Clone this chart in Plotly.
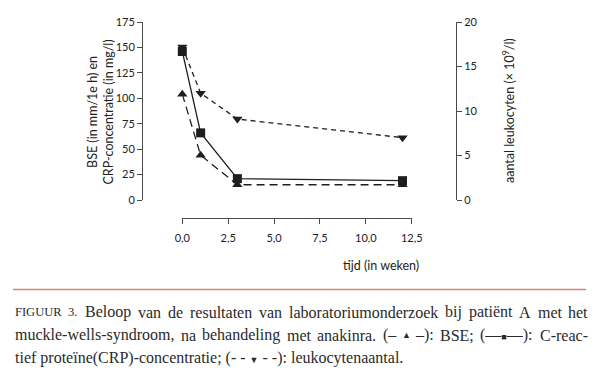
import plotly.graph_objects as go

weeks = [0, 1, 3, 12]
crp = [146, 66, 21, 19]
bse = [104, 44, 15, 15]
leuko = [17.2, 12.0, 9.1, 7.0]

x_ticks = [0, 2.5, 5, 7.5, 10, 12.5]
left_ticks = [0, 25, 50, 75, 100, 125, 150, 175]
right_ticks = [0, 5, 10, 15, 20]

# page body has an 8px margin, so the figure starts at (8, 8)
OFF = 8
W, H = 592, 362
def px(x):
    return (x - OFF) / W
def py(y):
    return 1 - (y - OFF) / H

ink = "#1e1e1e"
axc = "#4a4a4a"
sans = "Lato"
serif = "Liberation Serif"

fig = go.Figure()
fig.add_trace(go.Scatter(x=weeks, y=bse, mode="lines+markers",
                         line=dict(color=ink, width=1.3, dash="8px,5px"),
                         marker=dict(symbol="triangle-up", size=9, color=ink),
                         cliponaxis=False, name="BSE"))
fig.add_trace(go.Scatter(x=weeks, y=crp, mode="lines+markers",
                         line=dict(color=ink, width=1.3),
                         marker=dict(symbol="square", size=9, color=ink),
                         cliponaxis=False, name="CRP"))
fig.add_trace(go.Scatter(x=weeks, y=leuko, mode="lines+markers", yaxis="y2",
                         line=dict(color=ink, width=1.3, dash="5px,4px"),
                         marker=dict(symbol="triangle-down", size=9, color=ink),
                         cliponaxis=False, name="leukocyten"))

tickfont = dict(family=sans, size=11, color="#222")
fig.update_layout(
    width=W, height=H, margin=dict(l=0, r=0, t=0, b=0),
    paper_bgcolor="white", plot_bgcolor="white",
    showlegend=False, separators=",.",
    xaxis=dict(domain=[px(182.3), px(411.7)], range=[0, 12.5],
               anchor="free", position=py(218),
               tickvals=x_ticks, tickformat=".1f",
               showgrid=False, zeroline=False, showline=True, linecolor=axc, linewidth=1,
               ticks="outside", ticklen=5, tickcolor=axc, tickfont=tickfont,
               ticklabelstandoff=5, automargin=False),
    yaxis=dict(domain=[py(200), py(22)], range=[0, 175],
               anchor="free", position=px(142),
               tickvals=left_ticks,
               showgrid=False, zeroline=False, showline=True, linecolor=axc, linewidth=1,
               ticks="outside", ticklen=5, tickcolor=axc, tickfont=tickfont, automargin=False),
    yaxis2=dict(domain=[py(200), py(21)], range=[0, 20], overlaying="y", side="right",
                anchor="free", position=px(456),
                tickvals=right_ticks,
                showgrid=False, zeroline=False, showline=True, linecolor=axc, linewidth=1,
                ticks="outside", ticklen=5, tickcolor=axc, tickfont=tickfont, automargin=False),
)

title_font = dict(family=sans, size=12.5, color="#222")
fig.add_annotation(text="BSE (in mm/1e h) en<br>CRP-concentratie (in mg/l)",
                   x=px(100.5), y=py(112), xref="paper", yref="paper", textangle=-90,
                   xanchor="center", yanchor="middle", showarrow=False, font=title_font)
fig.add_annotation(text="aantal leukocyten (× 10<sup>9</sup>/l)",
                   x=px(508), y=py(111), xref="paper", yref="paper", textangle=-90,
                   xanchor="center", yanchor="middle", showarrow=False, font=title_font)
fig.add_annotation(text="tijd (in weken)", x=px(421), y=py(265), xref="paper", yref="paper",
                   xanchor="right", yanchor="middle", showarrow=False, font=title_font)

fig.add_shape(type="line", xref="paper", yref="paper", x0=px(13), x1=px(586),
              y0=py(289.5), y1=py(289.5), line=dict(color="#e57b7b", width=1.5))

# ---- caption, justified between x=13 and x=586 ----
CAP = 16
SC = 12.5
SYM = 9
CW = {}
CW.update(dict(zip("abcdefghijklmnopqrstuvwxyz",
                   [444, 500, 444, 500, 444, 333, 500, 500, 278, 278, 500, 278, 778,
                    500, 500, 500, 500, 333, 389, 278, 500, 500, 722, 500, 500, 444])))
CW.update(dict(zip("ABCDEFGHIJKLMNOPQRSTUVWXYZ",
                   [722, 667, 667, 722, 611, 556, 722, 722, 333, 389, 722, 611, 889,
                    722, 722, 556, 722, 667, 556, 611, 722, 722, 944, 722, 722, 611])))
CW.update({" ": 250, ".": 250, ",": 250, "-": 333, ":": 278, ";": 278, "(": 333, ")": 333,
           "–": 500, "—": 1000, "ë": 444, "ï": 278, "3": 500})
SYMW = {"▲": 770, "■": 770, "▼": 770}

def seg_w(text, size, sym=False):
    if sym:
        return sum(SYMW.get(c, 770) for c in text) / 1000 * size
    return sum(CW.get(c, 500) for c in text) / 1000 * size

def token(parts):
    # parts: list of (text, kind) where kind in {"n", "sc", "sym"}
    html, w = "", 0.0
    for text, kind in parts:
        if kind == "sc":
            html += "<span style='font-size:%spx'>%s</span>" % (SC, text)
            w += seg_w(text, SC)
        elif kind == "sym":
            html += "<span style='font-size:%spx'>%s</span>" % (SYM, text)
            w += seg_w(text, SYM, True)
        else:
            html += text
            w += seg_w(text, CAP)
    return html, w

line1 = [[("FIGUUR", "sc")], [("3.", "sc")]] + [[(w, "n")] for w in
         "Beloop van de resultaten van laboratoriumonderzoek bij patiënt A met het".split()]
line2 = [[(w, "n")] for w in "muckle-wells-syndroom, na behandeling met anakinra.".split()] + [
    [("(–", "n")], [("▲", "sym")], [("–):", "n")], [("BSE;", "n")],
    [("(—", "n"), ("■", "sym"), ("—):", "n")], [("C-reac-", "n")]]

cap_font = dict(family=serif, size=CAP, color="#2a2a2a")
X0, X1 = 13, 586
for words, yline in [(line1, 312), (line2, 335)]:
    toks = [token(p) for p in words]
    total = sum(w for _, w in toks)
    gap = (X1 - X0 - total) / (len(toks) - 1)
    x = X0
    for html, w in toks:
        fig.add_annotation(text=html, x=px(x), y=py(yline), xref="paper", yref="paper",
                           xanchor="left", yanchor="middle", showarrow=False, font=cap_font)
        x += w + gap

line3 = ("tief proteïne(CRP)-concentratie; (- - <span style='font-size:9px'>▼</span> - -): "
         "leukocytenaantal.")
fig.add_annotation(text=line3, x=px(13), y=py(358), xref="paper", yref="paper",
                   xanchor="left", yanchor="middle", showarrow=False, font=cap_font)

fig.write_html("out.html")
